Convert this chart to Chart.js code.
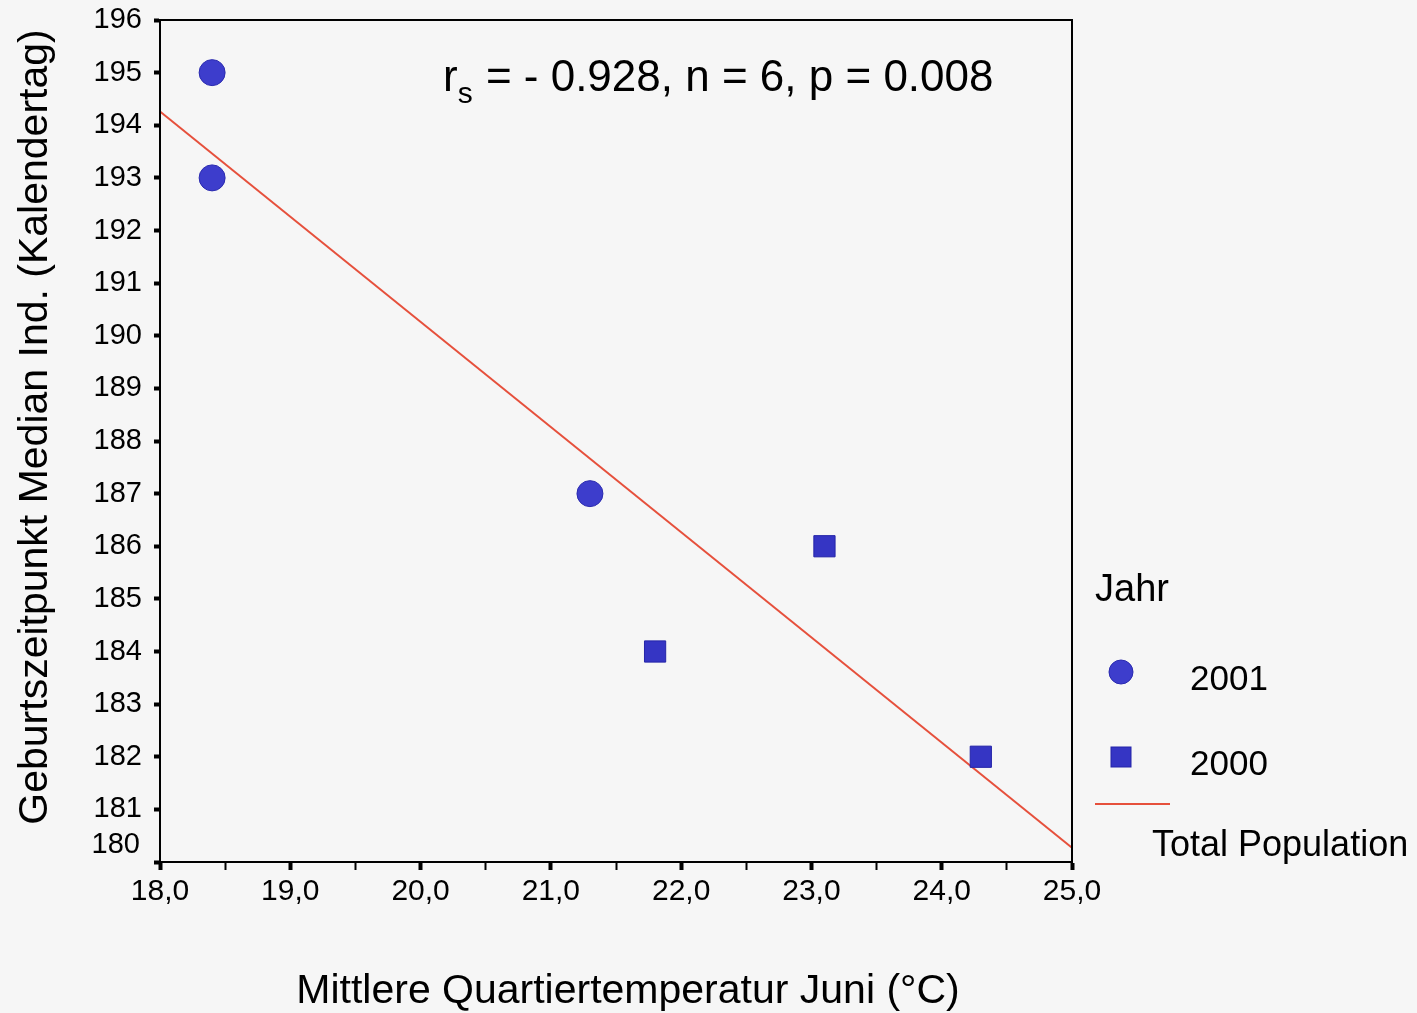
<!DOCTYPE html>
<html>
<head>
<meta charset="utf-8">
<script src="https://cdn.jsdelivr.net/npm/chart.js@4.4.1/dist/chart.umd.min.js"></script>
<style>
  html, body { margin: 0; padding: 0; background: #f6f6f6; }
  #wrap { position: relative; width: 1417px; height: 1013px; }
</style>
</head>
<body>
<div id="wrap"><canvas id="c" width="1417" height="1013"></canvas></div>
<script>
// ---- data ----
const temp2001 = [18.4, 18.4, 21.3];
const birth2001 = [195, 193, 187];
const temp2000 = [21.8, 23.1, 24.3];
const birth2000 = [184, 186, 182];
const fitTemp = [18.0, 25.0];
const fitBirth = [194.26, 180.27];
const legendLabels = ['2001', '2000', 'Total Population'];
const legendTitle = 'Jahr';
const statsText = ' = - 0.928, n = 6, p = 0.008';
const xTitle = 'Mittlere Quartiertemperatur Juni (°C)';
const yTitle = 'Geburtszeitpunkt Median Ind. (Kalendertag)';

const FONT = '"Liberation Sans", Arial, Helvetica, sans-serif';
const zip = (xs, ys) => xs.map((x, i) => ({ x, y: ys[i] }));

const overlay = {
  id: 'overlay',
  afterDraw(chart) {
    const ctx = chart.ctx;
    const a = chart.chartArea;
    const ys = chart.scales.y;
    ctx.save();
    // frame
    ctx.strokeStyle = '#000';
    ctx.lineWidth = 2;
    ctx.strokeRect(a.left, a.top, a.right - a.left, a.bottom - a.top);
    ctx.fillStyle = '#000';
    // bottom y label (shifted up like the original)
    ctx.font = '29px ' + FONT;
    ctx.textAlign = 'right';
    ctx.textBaseline = 'middle';
    ctx.fillText(String(ys.min), a.left - 20, ys.getPixelForValue(ys.min) - 17);
    // y axis title
    ctx.save();
    ctx.translate(36, 427);
    ctx.rotate(-Math.PI / 2);
    ctx.textAlign = 'center';
    ctx.font = '41px ' + FONT;
    ctx.fillText(yTitle, 0, 0);
    ctx.restore();
    // x axis title
    ctx.textAlign = 'center';
    ctx.font = '41px ' + FONT;
    ctx.fillText(xTitle, 628, 992);
    // stats annotation
    ctx.textAlign = 'left';
    ctx.textBaseline = 'alphabetic';
    ctx.font = '44px ' + FONT;
    let x = 443;
    ctx.fillText('r', x, 91);
    x += ctx.measureText('r').width;
    ctx.font = '30px ' + FONT;
    ctx.fillText('s', x, 103);
    x += ctx.measureText('s').width;
    ctx.font = '44px ' + FONT;
    ctx.fillText(statsText, x + 1, 91);
    // legend
    const ds = chart.data.datasets;
    ctx.textBaseline = 'middle';
    ctx.font = '38px ' + FONT;
    ctx.fillText(legendTitle, 1095, 591);
    ctx.font = '35px ' + FONT;
    const rows = [672, 757];
    [0, 1].forEach(i => {
      const d = ds[i];
      ctx.fillStyle = d.backgroundColor;
      ctx.strokeStyle = d.borderColor;
      ctx.lineWidth = 1;
      if (d.pointStyle === 'circle') {
        ctx.beginPath();
        ctx.arc(1121, rows[i], 12, 0, Math.PI * 2);
        ctx.fill(); ctx.stroke();
      } else {
        ctx.fillRect(1111, rows[i] - 10, 20, 20);
        ctx.strokeRect(1111, rows[i] - 10, 20, 20);
      }
      ctx.fillStyle = '#000';
      ctx.fillText(legendLabels[i], 1190, rows[i] + 8);
    });
    ctx.strokeStyle = ds[2].borderColor;
    ctx.lineWidth = 2;
    ctx.beginPath();
    ctx.moveTo(1095, 804); ctx.lineTo(1170, 804);
    ctx.stroke();
    ctx.fillStyle = '#000';
    ctx.font = '36px ' + FONT;
    ctx.fillText(legendLabels[2], 1152, 846);
    ctx.restore();
  }
};

const bgPlugin = {
  id: 'bg',
  beforeDraw(chart) {
    const ctx = chart.ctx;
    ctx.save();
    ctx.fillStyle = '#f6f6f6';
    ctx.fillRect(0, 0, chart.width, chart.height);
    ctx.restore();
  }
};

new Chart(document.getElementById('c'), {
  type: 'scatter',
  data: {
    datasets: [
      {
        label: legendLabels[0],
        data: zip(temp2001, birth2001),
        pointStyle: 'circle',
        pointRadius: 13,
        backgroundColor: '#3d3dcc',
        borderColor: '#2b2bb0',
        borderWidth: 1
      },
      {
        label: legendLabels[1],
        data: zip(temp2000, birth2000),
        pointStyle: 'rect',
        pointRadius: 15,
        backgroundColor: '#3535c4',
        borderColor: '#2424a8',
        borderWidth: 1
      },
      {
        label: legendLabels[2],
        data: zip(fitTemp, fitBirth),
        showLine: true,
        pointRadius: 0,
        borderColor: '#e6503c',
        backgroundColor: '#e6503c',
        borderWidth: 2
      }
    ]
  },
  options: {
    responsive: false,
    animation: false,
    layout: { padding: { left: 0, top: 20, right: 345, bottom: 0 } },
    plugins: { legend: { display: false }, tooltip: { enabled: false } },
    scales: {
      x: {
        type: 'linear',
        min: 18, max: 25,
        afterFit(s) { s.height = 151; s.paddingLeft = 0; s.paddingRight = 0; },
        ticks: {
          stepSize: 0.5,
          autoSkip: false,
          maxRotation: 0,
          padding: 4,
          color: '#000',
          font: { family: FONT, size: 30 },
          callback: v => Number.isInteger(v) ? v.toFixed(1).replace('.', ',') : ''
        },
        grid: {
          drawOnChartArea: false,
          drawTicks: true,
          tickLength: 8,
          tickColor: '#000',
          tickWidth: c => (c.tick && Number.isInteger(c.tick.value)) ? 4 : 2
        },
        border: { display: true, color: '#000', width: 2 },
        title: { display: false }
      },
      y: {
        type: 'linear',
        min: 180, max: 196,
        afterFit(s) { s.width = 160; s.paddingTop = 0; s.paddingBottom = 0; },
        ticks: {
          stepSize: 1,
          autoSkip: false,
          padding: 12,
          color: '#000',
          font: { family: FONT, size: 29 },
          callback: v => v === 180 ? '' : String(v)
        },
        grid: {
          drawOnChartArea: false,
          drawTicks: true,
          tickLength: 6,
          tickColor: '#000',
          tickWidth: 4
        },
        border: { display: true, color: '#000', width: 2 },
        title: { display: false }
      }
    }
  },
  plugins: [bgPlugin, overlay]
});
</script>
</body>
</html>
